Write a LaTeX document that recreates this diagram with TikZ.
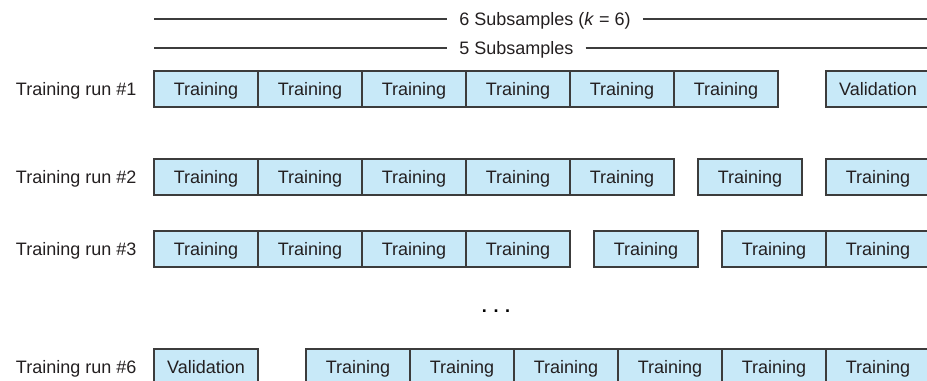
\documentclass[tikz,border=0pt]{standalone}
\usepackage{fontspec}
\setmainfont{Liberation Sans}
\usetikzlibrary{positioning}
\definecolor{cellblue}{HTML}{C8E9F8}
\definecolor{edgegray}{HTML}{3C3C3C}
\definecolor{inkblack}{HTML}{231F20}
\tikzset{
  fold/.style={draw=edgegray, line width=1.1pt, fill=cellblue, minimum width=78pt,
    minimum height=27pt, inner sep=0pt, outer sep=0pt, text=inkblack,
    text height=9.7pt, text depth=0pt},
  runlabel/.style={inner sep=0pt, text=inkblack, text height=9.7pt, text depth=0pt},
  span/.style={draw=edgegray, line width=1pt},
}
\begin{document}
\begin{tikzpicture}[x=0.75pt, y=-0.75pt, node distance=0pt, font=\fontsize{13.5}{16}\selectfont]
  \clip (0,0) rectangle (927,381);

  % run 1
  \node (r1b1) [fold] at (206,89) {Training};
  \node (r1b2) [fold, right=of r1b1] {Training};
  \node (r1b3) [fold, right=of r1b2] {Training};
  \node (r1b4) [fold, right=of r1b3] {Training};
  \node (r1b5) [fold, right=of r1b4] {Training};
  \node (r1b6) [fold, right=of r1b5] {Training};
  \node (r1b7) [fold, right=36pt of r1b6] {Validation};
  \node (run1) [runlabel, left=13pt of r1b1] {Training run \#1};

  % run 2
  \node (r2b1) [fold] at (206,177) {Training};
  \node (r2b2) [fold, right=of r2b1] {Training};
  \node (r2b3) [fold, right=of r2b2] {Training};
  \node (r2b4) [fold, right=of r2b3] {Training};
  \node (r2b5) [fold, right=of r2b4] {Training};
  \node (r2b6) [fold, right=18pt of r2b5] {Training};
  \node (r2b7) [fold, right=18pt of r2b6] {Training};
  \node (run2) [runlabel, left=13pt of r2b1] {Training run \#2};

  % run 3
  \node (r3b1) [fold] at (206,249) {Training};
  \node (r3b2) [fold, right=of r3b1] {Training};
  \node (r3b3) [fold, right=of r3b2] {Training};
  \node (r3b4) [fold, right=of r3b3] {Training};
  \node (r3b5) [fold, right=18pt of r3b4] {Training};
  \node (r3b6) [fold, right=18pt of r3b5] {Training};
  \node (r3b7) [fold, right=of r3b6] {Training};
  \node (run3) [runlabel, left=13pt of r3b1] {Training run \#3};

  \node (more) at (496,311) {\textbf{. . .}};

  % run 6
  \node (r6b1) [fold] at (206,367) {Validation};
  \node (r6b2) [fold, right=36pt of r6b1] {Training};
  \node (r6b3) [fold, right=of r6b2] {Training};
  \node (r6b4) [fold, right=of r6b3] {Training};
  \node (r6b5) [fold, right=of r6b4] {Training};
  \node (r6b6) [fold, right=of r6b5] {Training};
  \node (r6b7) [fold, right=of r6b6] {Training};
  \node (run6) [runlabel, left=13pt of r6b1] {Training run \#6};

  % subsample spans
  \node (sub6) [runlabel, anchor=west, inner xsep=9pt] at (447,19) {6 Subsamples (\textit{k} = 6)};
  \coordinate (sub6l) at (r1b1.west |- sub6);
  \coordinate (sub6r) at (r1b7.east |- sub6);
  \draw [span] (sub6l) -- (sub6.west);
  \draw [span] (sub6.east) -- (sub6r);

  \node (sub5) [runlabel, anchor=west, inner xsep=9pt] at (447,48) {5 Subsamples};
  \coordinate (sub5l) at (r1b1.west |- sub5);
  \coordinate (sub5r) at (r1b7.east |- sub5);
  \draw [span] (sub5l) -- (sub5.west);
  \draw [span] (sub5.east) -- (sub5r);
\end{tikzpicture}
\end{document}
